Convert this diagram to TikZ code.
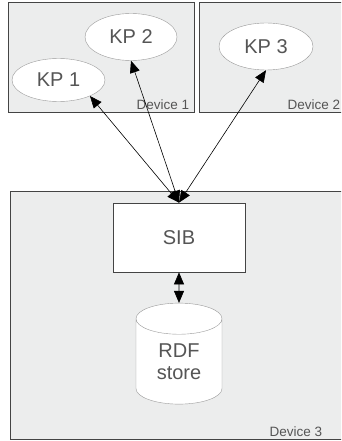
\documentclass[tikz,border=0pt]{standalone}
\usepackage{fontspec}
\setmainfont{Liberation Sans}
\usetikzlibrary{positioning,shapes.geometric,arrows.meta}
\definecolor{devfill}{HTML}{ECEDED}
\definecolor{labelgray}{HTML}{555555}
\definecolor{linegray}{HTML}{444444}
\definecolor{kpline}{HTML}{999999}

\begin{document}
\begin{tikzpicture}[x=1pt,y=-1pt,
    device/.style={draw=linegray, line width=0.8pt, fill=devfill, inner sep=0pt},
    devlabel/.style={text=labelgray, font=\fontsize{13.5}{16}\selectfont, inner sep=0pt},
    kp/.style={ellipse, draw=kpline, fill=white, text=labelgray, font=\fontsize{20}{24}\selectfont, inner sep=0pt},
    sib/.style={draw=linegray, line width=0.7pt, fill=white, text=labelgray, font=\fontsize{20}{24}\selectfont, minimum width=132pt, minimum height=69pt},
    store/.style={cylinder, shape border rotate=90, aspect=0.7, draw=kpline, fill=white, text=labelgray, align=center, font=\fontsize{20}{22}\selectfont, minimum width=86pt, minimum height=101pt, inner sep=0pt},
    link/.style={{Triangle[length=12pt,width=10pt]}-{Triangle[length=12pt,width=10pt]}, line width=0.6pt}]
  \clip (0,0) rectangle (341,441);
  % devices
  \node[device, minimum width=186pt, minimum height=110pt] (dev1) at (101,57) {};
  \node[device, minimum width=150pt, minimum height=110pt] (dev2) at (274,57) {};
  \node[device, minimum width=340pt, minimum height=248pt] (dev3) at (180,315) {};
  \node[devlabel, above left=3pt and 5pt of dev1.south east] (lab1) {Device 1};
  \node[devlabel, above left=3pt and 9pt of dev2.south east] (lab2) {Device 2};
  \node[devlabel, above left=3pt and 28pt of dev3.south east] (lab3) {Device 3};
  % knowledge processors
  \node[kp, minimum width=93pt, minimum height=43pt] (kp1) at (58.5,80) {KP 1};
  \node[kp, minimum width=92pt, minimum height=47pt] (kp2) at (131,37) {KP 2};
  \node[kp, minimum width=94pt, minimum height=47pt] (kp3) at (266,46.5) {KP 3};
  % broker and store
  \node[sib] (sib) at (179,237.5) {SIB};
  \node[store] (store) at (179,361.5) {RDF\\store};
  \path[link]
    (sib.north) edge (kp1.-27)
    (sib.north) edge (kp2.south)
    (sib.north) edge (kp3.south)
    (sib.south) edge (store.north);
\end{tikzpicture}
\end{document}
